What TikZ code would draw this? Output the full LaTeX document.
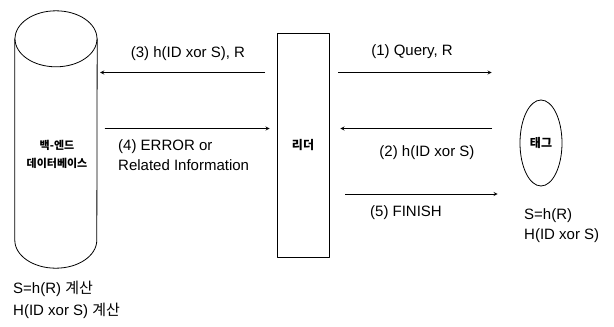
\documentclass[tikz,border=0pt]{standalone}
\usepackage{fontspec}
\setmainfont{Liberation Sans}
\newfontfamily\kr{Noto Sans CJK KR}
\usetikzlibrary{shapes.geometric}

\begin{document}
\begin{tikzpicture}[x=1pt,y=-1pt,>=stealth,line join=round,line cap=round,
		font=\fontsize{15}{20}\selectfont,
		box/.style={draw,thick,inner sep=0pt,font=\fontsize{12}{14}\selectfont\kr\bfseries},
		arr/.style={->,thick},
		lbl/.style={inner sep=0pt,align=left}]
		\useasboundingbox (0,0) rectangle (614,327);
		\def\rx{41pt};
		\def\ry{28pt};
		% back-end database
		\node[minimum width=82pt,minimum height=201pt,inner sep=0pt] (db) at (56,139.5) {};
		\draw[thick] (db.north west)--(db.south west)
		arc[start angle=180,end angle=360,x radius=\rx,y radius=\ry]--(db.north east);
		\draw[thick] (db.north) ellipse[x radius=\rx,y radius=\ry];
		\node[inner sep=0pt,align=center,font=\fontsize{11}{18}\selectfont\kr\bfseries] (dbname) at (57,154) {백-엔드\\데이터베이스};
		% reader and tag
		\node[box,minimum width=52pt,minimum height=224pt] (reader) at (303,145) {리더};
		\node[box,ellipse,minimum width=42pt,minimum height=86pt] (tag) at (541,143) {태그};
		% rows of the messages
		\coordinate (ra) at (0,72.5);
		\coordinate (rb) at (0,128.5);
		\coordinate (rc) at (0,194);
		\draw[arr,shorten <=9pt,shorten >=28pt] (reader.east |- ra)--(tag.west |- ra);
		\draw[arr,shorten <=28pt,shorten >=11pt] (tag.west |- rb)--(reader.east |- rb);
		\draw[arr,shorten <=12pt,shorten >=3pt] (reader.west |- ra)--(db.east |- ra);
		\draw[arr,shorten <=8pt,shorten >=7pt] (db.east |- rb)--(reader.west |- rb);
		\draw[arr,shorten <=16pt,shorten >=22pt] (reader.east |- rc)--(tag.west |- rc);
		% labels
		\node[lbl] (m1) at (412,52) {(1) Query, R};
		\node[lbl] (m2) at (427,153) {(2) h(ID xor S)};
		\node[lbl] (m3) at (188,54) {(3) h(ID xor S), R};
		\node[lbl,anchor=north west] (m4) at (118,139) {(4) ERROR or\\Related Information};
		\node[lbl] (m5) at (406,213) {(5) FINISH};
		\node[lbl,anchor=north west,font=\fontsize{15}{22}\selectfont] (dbcalc) at (13,281) {S=h(R) {\kr 계산}\\H(ID xor S) {\kr 계산}};
		\node[lbl,anchor=north west] (tagcalc) at (524,208) {S=h(R)\\H(ID xor S)};
		\end{tikzpicture}
\end{document}
